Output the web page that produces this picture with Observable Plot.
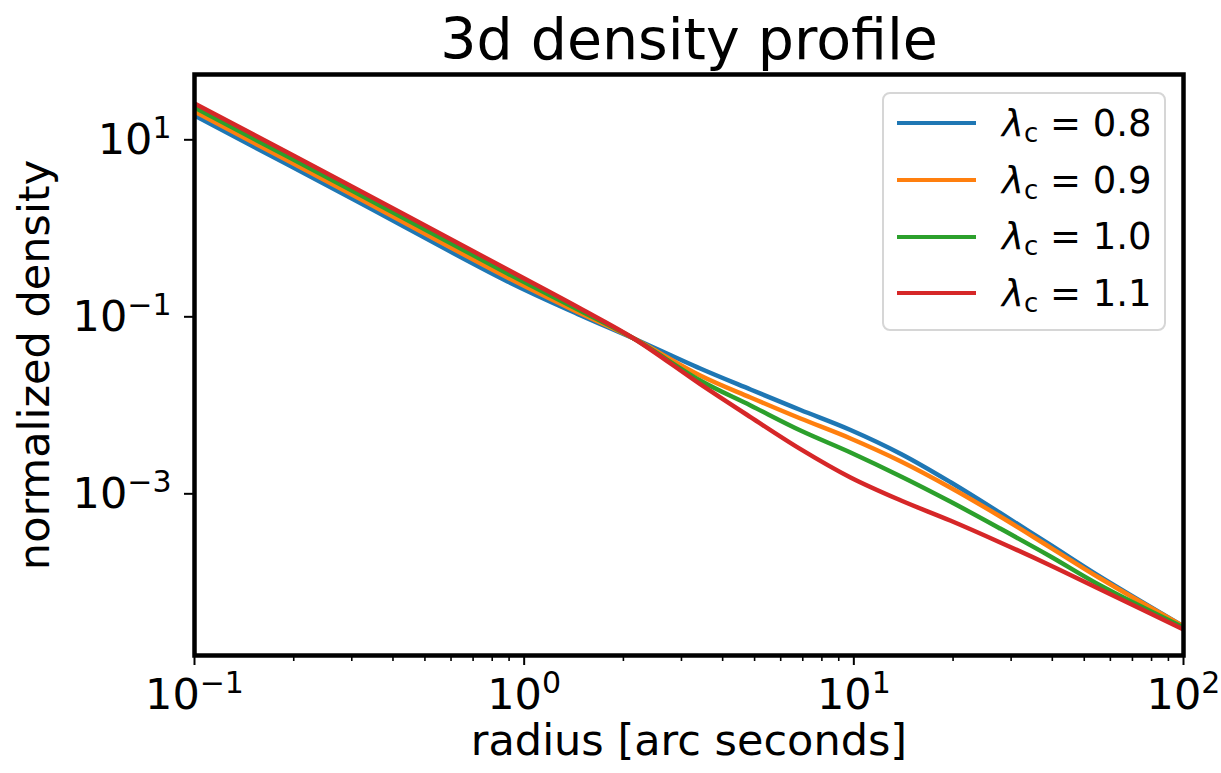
<!DOCTYPE html>
<html>
<head>
<meta charset="utf-8">
<script src="https://cdn.jsdelivr.net/npm/d3@7"></script>
<script src="https://cdn.jsdelivr.net/npm/@observablehq/plot@0.6"></script>
<style>
  body { margin: 0; background: #fff; }
  #wrap { position: relative; width: 1221px; height: 773px; font-family: "DejaVu Sans", sans-serif; }
  #legend { position: absolute; left: 882px; top: 92px; width: 284px; height: 239px; border: 2px solid #d6d6d6; border-radius: 8px; background: rgba(255,255,255,0.8); box-sizing: border-box; }
  .row { position: absolute; left: 0; height: 0; width: 100%; }
  .swatch { position: absolute; left: 13px; width: 79px; height: 4px; top: -2px; }
  .lab { position: absolute; left: 118px; top: -21.5px; font-size: 37px; line-height: 44px; white-space: nowrap; color: #000; }
  .lab .lam { font-style: italic; }
  .lab .sub { font-size: 26px; position: relative; top: 6px; }
</style>
</head>
<body>
<div id="wrap"></div>
<script>
// ---- data ----
const radius = [0.1, 0.3, 0.89, 1.48, 2.15, 3.42, 4.86, 6.89, 9.77, 13.9, 19.6, 27.8, 39.5, 56.0, 100];
const lambdaValues = ["0.8", "0.9", "1.0", "1.1"];
const density08 = [18.8, 2.17, 0.251, 0.1045, 0.0569, 0.02605, 0.01509, 0.00885, 0.00526, 0.00282, 0.00136, 0.000607, 0.000264, 0.0001148, 3.17e-5];
const density09 = [20.9, 2.41, 0.278, 0.1095, 0.0569, 0.02171, 0.01225, 0.00709, 0.00422, 0.00232, 0.00118, 0.000554, 0.000247, 0.0001104, 3.17e-5];
const density10 = [23.2, 2.67, 0.309, 0.1172, 0.0569, 0.01906, 0.00995, 0.00519, 0.00293, 0.00157, 0.000818, 0.000405, 0.000196, 9.20e-5, 3.09e-5];
const density11 = [25.7, 2.97, 0.342, 0.1241, 0.0569, 0.01736, 0.00736, 0.00320, 0.00153, 0.00084, 0.000499, 0.000282, 0.000155, 8.29e-5, 2.93e-5];
const colors = ["#1f77b4", "#ff7f0e", "#2ca02c", "#d62728"];
const xMajorTicks = [0.1, 1, 10, 100];
const xMinorTicks = [0.2,0.3,0.4,0.5,0.6,0.7,0.8,0.9, 2,3,4,5,6,7,8,9, 20,30,40,50,60,70,80,90];
const yMajorTicks = [10, 0.1, 0.001];
const title = "3d density profile";
const xLabel = "radius [arc seconds]";
const yLabel = "normalized density";

const series = [density08, density09, density10, density11];
const rows = [];
series.forEach((vals, i) => vals.forEach((v, j) => rows.push({ r: radius[j], rho: v, lam: lambdaValues[i] })));

const expFmt = d => "10^" + Math.round(Math.log10(d));

const chart = Plot.plot({
  width: 1221, height: 773,
  marginLeft: 194, marginRight: 38, marginTop: 74, marginBottom: 118,
  style: { fontFamily: '"DejaVu Sans", sans-serif', background: "white", color: "black", overflow: "visible" },
  x: { type: "log", domain: [0.1, 100] },
  y: { type: "log", domain: [1.49e-5, 54.7] },
  color: { domain: lambdaValues, range: colors },
  marks: [
    Plot.line(rows, { x: "r", y: "rho", z: "lam", stroke: "lam", strokeWidth: 4.5, curve: "catmull-rom", clip: true }),
    Plot.axisX({ ticks: xMinorTicks, tickSize: 6, strokeWidth: 1.6, tickFormat: () => "", label: null }),
    Plot.axisX({ ticks: xMajorTicks, tickSize: 10, tickPadding: 12.5, strokeWidth: 2, fontSize: 43, tickFormat: expFmt, label: null }),
    Plot.axisY({ ticks: yMajorTicks, tickSize: 10, tickPadding: 13, strokeWidth: 2, fontSize: 43, tickFormat: expFmt, label: null }),
    Plot.frame({ stroke: "black", strokeWidth: 4.5 }),
    Plot.text([title], { frameAnchor: "top", dy: -34, fontSize: 57, text: d => d, textAnchor: "middle", lineAnchor: "middle" }),
    Plot.text([xLabel], { frameAnchor: "bottom", dy: 86, fontSize: 43, text: d => d, textAnchor: "middle", lineAnchor: "middle" }),
    Plot.text([yLabel], { frameAnchor: "left", dx: -159, rotate: -90, fontSize: 43, text: d => d, textAnchor: "middle", lineAnchor: "middle" })
  ]
});

// turn "10^n" tick labels into base + superscript
const ns = "http://www.w3.org/2000/svg";
chart.querySelectorAll("text").forEach(t => {
  const m = (t.textContent || "").match(/^10\^(-?\d+)$/);
  if (!m) return;
  t.textContent = "";
  const base = document.createElementNS(ns, "tspan");
  base.textContent = "10";
  const sup = document.createElementNS(ns, "tspan");
  sup.setAttribute("font-size", "30");
  sup.setAttribute("dy", "-16");
  sup.textContent = m[1].replace("-", "\u2212");
  t.append(base, sup);
});

const wrap = document.getElementById("wrap");
wrap.appendChild(chart);

// legend
const legend = document.createElement("div");
legend.id = "legend";
const rowY = [29.3, 86, 142.7, 199.3];
lambdaValues.forEach((lv, i) => {
  const row = document.createElement("div");
  row.className = "row";
  row.style.top = rowY[i] + "px";
  row.innerHTML = `<div class="swatch" style="background:${colors[i]}"></div>` +
    `<div class="lab"><span class="lam">λ</span><span class="sub">c</span> = ${lv}</div>`;
  legend.appendChild(row);
});
wrap.appendChild(legend);
</script>
</body>
</html>
